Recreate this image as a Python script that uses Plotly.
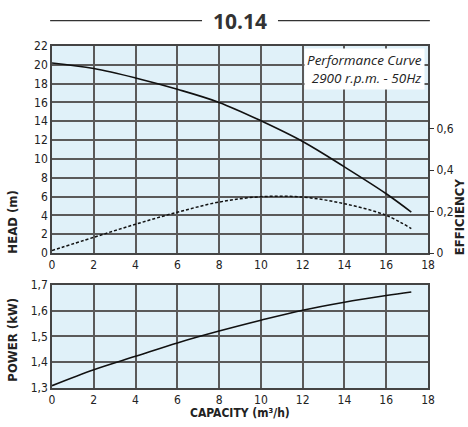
import plotly.graph_objects as go

capacity = [0, 2, 4, 6, 8, 10, 12, 14, 16, 17.2]
head = [20.2, 19.6, 18.6, 17.4, 16.0, 14.05, 11.85, 9.15, 6.3, 4.35]
efficiency = [0.012, 0.076, 0.139, 0.197, 0.246, 0.272, 0.270, 0.238, 0.182, 0.118]
power = [1.309, 1.371, 1.423, 1.475, 1.521, 1.563, 1.602, 1.633, 1.659, 1.673]

x_ticks = list(range(0, 19, 2))
head_ticks = list(range(0, 23, 2))
eff_ticks = [0, 0.2, 0.4, 0.6]
eff_labels = ["0", "0,2", "0,4", "0,6"]
power_ticks = [1.3, 1.4, 1.5, 1.6, 1.7]
power_labels = ["1,3", "1,4", "1,5", "1,6", "1,7"]

FONT = "DejaVu Sans Condensed, Liberation Sans Narrow, Arial Narrow, sans-serif"
GRID = "#5a5a5a"
BG = "#e0f1f9"
TXT = "#222222"

fig = go.Figure()
fig.add_trace(go.Scatter(x=capacity, y=head, mode="lines", line=dict(color="#111", width=1.6, shape="spline"),
                         xaxis="x", yaxis="y", showlegend=False, hoverinfo="skip"))
fig.add_trace(go.Scatter(x=capacity, y=efficiency, mode="lines",
                         line=dict(color="#111", width=1.5, dash="3px,2px", shape="spline"),
                         xaxis="x", yaxis="y2", showlegend=False, hoverinfo="skip"))
fig.add_trace(go.Scatter(x=capacity, y=power, mode="lines", line=dict(color="#111", width=1.6, shape="spline"),
                         xaxis="x2", yaxis="y3", showlegend=False, hoverinfo="skip"))

axis_common = dict(showgrid=True, gridcolor=GRID, gridwidth=1.5, showline=True, linecolor="#444",
                   linewidth=1.5, mirror=True, zeroline=False, tickfont=dict(family=FONT, size=12, color=TXT))

fig.update_layout(
    width=468, height=427,
    margin=dict(l=52, r=40, t=46, b=39),
    paper_bgcolor="white", plot_bgcolor=BG,
    xaxis=dict(domain=[0, 1], anchor="y", range=[0, 18], tickvals=x_ticks, ticks="", **axis_common),
    yaxis=dict(domain=[0.3947, 1], anchor="x", range=[0, 22], tickvals=head_ticks, ticks="", **axis_common),
    yaxis2=dict(overlaying="y", side="right", anchor="x", range=[0, 1], tickvals=eff_ticks, ticktext=eff_labels,
                showgrid=False, zeroline=False, showline=False, ticks="outside", ticklen=5, tickcolor="#333",
                tickfont=dict(family=FONT, size=12, color=TXT)),
    xaxis2=dict(domain=[0, 1], anchor="y3", range=[0, 18], tickvals=x_ticks, ticks="", **axis_common),
    yaxis3=dict(domain=[0, 0.3012], anchor="x2", range=[1.3, 1.7], tickvals=power_ticks, ticktext=power_labels,
                ticks="", **axis_common),
)

# title with lines
fig.add_annotation(text="<b>10.14</b>", x=0.5, y=1.074, xref="paper", yref="paper", showarrow=False,
                   font=dict(family="Open Sans, DejaVu Sans", size=21, color="#333"), xanchor="center", yanchor="middle")
fig.add_shape(type="line", xref="paper", yref="paper", x0=-0.005, x1=0.399, y0=1.074, y1=1.074,
              line=dict(color="#333", width=1.3))
fig.add_shape(type="line", xref="paper", yref="paper", x0=0.601, x1=1.005, y0=1.074, y1=1.074,
              line=dict(color="#333", width=1.3))

# axis titles
fig.add_annotation(text="<b>HEAD (m)</b>", x=-0.105, y=0.485, xref="paper", yref="paper", showarrow=False,
                   textangle=-90, font=dict(family=FONT, size=13, color=TXT), xanchor="center", yanchor="middle")
fig.add_annotation(text="<b>EFFICIENCY</b>", x=1.083, y=0.5, xref="paper", yref="paper", showarrow=False,
                   textangle=-90, font=dict(family=FONT, size=13, color=TXT), xanchor="center", yanchor="middle")
fig.add_annotation(text="<b>POWER (kW)</b>", x=-0.105, y=0.14, xref="paper", yref="paper", showarrow=False,
                   textangle=-90, font=dict(family=FONT, size=13, color=TXT), xanchor="center", yanchor="middle")
fig.add_annotation(text="<b>CAPACITY (m³/h)</b>", x=0.5, y=-0.073, xref="paper", yref="paper", showarrow=False,
                   font=dict(family=FONT, size=12, color=TXT), xanchor="center", yanchor="middle")

# performance box
fig.add_annotation(text="<i>Performance Curve</i><br><i>2900 r.p.m. - 50Hz</i>", x=0.993, y=0.993,
                   xref="paper", yref="paper", showarrow=False, align="right", xanchor="right", yanchor="top",
                   bgcolor="white", borderpad=2, font=dict(family="Open Sans, DejaVu Sans", size=13.5, color=TXT))

fig.write_html("out.html", config={"displayModeBar": False},
               post_script="document.body.style.margin='0';document.body.style.padding='0';")
